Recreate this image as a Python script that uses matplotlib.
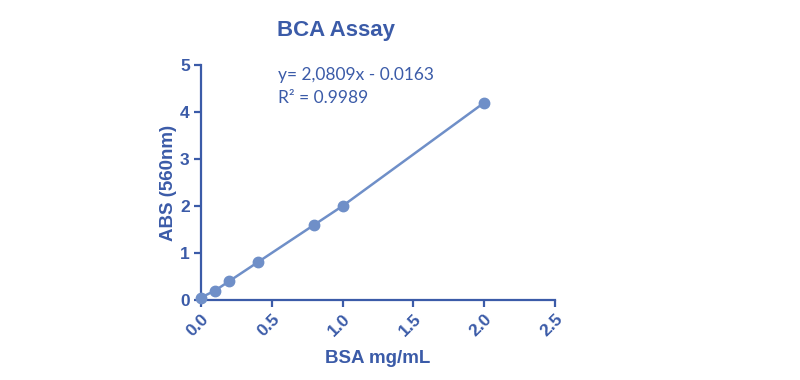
import numpy as np
import matplotlib.pyplot as plt

# BCA standard curve
bsa = [0.0, 0.1, 0.2, 0.4, 0.8, 1.0, 2.0]
absorbance = [0.05, 0.2, 0.4, 0.8, 1.6, 2.0, 4.2]
x_ticks = [0.0, 0.5, 1.0, 1.5, 2.0, 2.5]
y_ticks = [0, 1, 2, 3, 4, 5]

text_blue = '#3b5ba8'
point_blue = '#6f8fc8'

plt.rcParams['font.family'] = ['Liberation Sans', 'DejaVu Sans']

fig = plt.figure(figsize=(8, 3.8), dpi=100)
ax = fig.add_axes([0.251, 0.2105, 0.443, 0.6185])

ax.plot(bsa, absorbance, color=point_blue, lw=1.8, marker='o', ms=7.5,
        mec=point_blue, mfc=point_blue, clip_on=False, zorder=3)

ax.set_xlim(0, 2.5)
ax.set_ylim(0, 5)
ax.set_xticks(x_ticks)
ax.set_yticks(y_ticks)
ax.set_xticklabels(['%.1f' % t for t in x_ticks], rotation=45, ha='right',
                   va='top', rotation_mode='anchor', fontweight='bold',
                   fontsize=12.5, color=text_blue)
ax.set_yticklabels([str(t) for t in y_ticks], fontweight='bold',
                   fontsize=12.5, color=text_blue)

for side in ['top', 'right']:
    ax.spines[side].set_visible(False)
for side in ['left', 'bottom']:
    ax.spines[side].set_color(text_blue)
    ax.spines[side].set_linewidth(1.6)
ax.tick_params(direction='out', length=5, width=1.6, color=text_blue, pad=3)

ax.set_xlabel('BSA mg/mL', fontsize=13.5, fontweight='bold', color=text_blue,
              labelpad=8)
ax.set_ylabel('ABS (560nm)', fontsize=13.5, fontweight='bold', color=text_blue,
              labelpad=2)

fig.text(0.42, 0.921, 'BCA Assay', fontsize=16, fontweight='bold',
         color=text_blue, ha='center', va='center')

ax.text(0.2175, 0.99, 'y= 2,0809x - 0.0163\nR\u00b2 = 0.9989',
        transform=ax.transAxes, ha='left', va='top', fontsize=12.5,
        family=['Lato', 'DejaVu Sans'], color=text_blue, linespacing=1.55)

fig.savefig('out.png', dpi=100)
